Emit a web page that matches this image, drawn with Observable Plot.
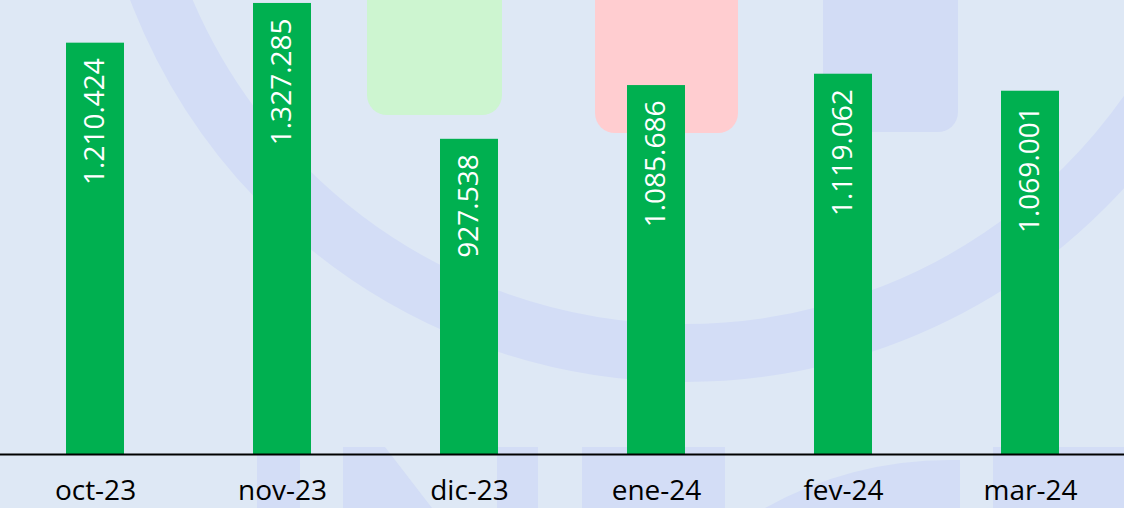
<!DOCTYPE html>
<html>
<head>
<meta charset="utf-8">
<script src="https://cdn.jsdelivr.net/npm/d3@7"></script>
<script src="https://cdn.jsdelivr.net/npm/@observablehq/plot@0.6"></script>
<style>
  html, body { margin: 0; padding: 0; background: #dee8f5; }
  #wrap { position: relative; width: 1124px; height: 508px; overflow: hidden; }
  #wm { position: absolute; left: 0; top: 0; }
  #chart { position: absolute; left: 0; top: 0; }
</style>
</head>
<body>
<div id="wrap">
  <svg id="wm" width="1124" height="508" viewBox="0 0 1124 508">
    <g fill="#d3ddf6">
      <circle cx="685" cy="-212" r="565" fill="none" stroke="#d3ddf6" stroke-width="58"/>
      <rect x="823" y="-30" width="135" height="162" rx="20" fill="#d2dcf5"/>
      <rect x="367" y="-30" width="135" height="145" rx="20" fill="#cdf5d0"/>
      <rect x="595" y="-30" width="143" height="163" rx="20" fill="#ffcdd0"/>
      <rect x="257" y="447" width="43" height="70"/>
      <polygon points="343,447 385,447 432,508 343,508"/>
      <rect x="497" y="447" width="41" height="70"/>
      <rect x="582" y="447" width="143" height="70"/>
      <path d="M765,508 A380,380 0 0 1 950,460 L960,460 L960,508 Z"/>
      <rect x="993" y="447" width="140" height="70"/>
    </g>
  </svg>
  <div id="chart"></div>
</div>
<script>
const months = ["oct-23", "nov-23", "dic-23", "ene-24", "fev-24", "mar-24"];
const values = [1210424, 1327285, 927538, 1085686, 1119062, 1069001];

const data = months.map((m, i) => ({month: m, value: values[i]}));
const fmt = d3.formatLocale({decimal: ",", thousands: ".", grouping: [3], currency: ["", ""]}).format(",d");

const chart = Plot.plot({
  width: 1124,
  height: 508,
  marginTop: 0,
  marginBottom: 54,
  marginLeft: 0,
  marginRight: 0,
  style: {background: "transparent", fontFamily: "'Open Sans', sans-serif"},
  x: {domain: months, paddingInner: 0.69, paddingOuter: 0.345, label: null},
  y: {domain: [0, 1336000], axis: null},
  marks: [
    Plot.barY(data, {x: "month", y: "value", fill: "#00b050"}),
    Plot.ruleY([0], {stroke: "#000", strokeWidth: 2}),
    Plot.text(data, {
      x: "month", y: "value", text: d => fmt(d.value),
      rotate: -90, textAnchor: "end", dy: 15,
      fill: "white", fontSize: 28
    }),
    Plot.axisX({tickSize: 0, tickPadding: 26, fontSize: 28, fill: "#000", label: null})
  ]
});
document.getElementById("chart").appendChild(chart);
</script>
</body>
</html>
